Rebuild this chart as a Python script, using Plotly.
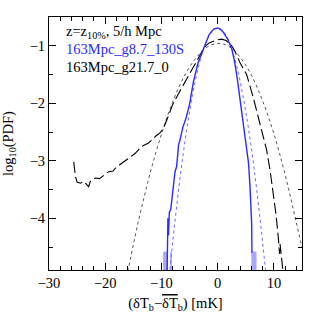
import plotly.graph_objects as go

# ---- data ----
# simulated PDF, 163Mpc_g8.7_130S (blue solid)
blue_x = [-9.0, -8.85, -8.75, -8.6, -8.35, -8.0, -7.85, -7.6, -7.3, -6.95, -6.7, -6.2, -5.6, -5.0,
          -4.3, -3.5, -2.5, -1.5, -0.7, 0.1, 0.9, 1.7, 2.5, 3.0, 3.5, 4.1, 4.8, 5.2, 5.5, 5.75,
          6.0, 6.05, 6.1]
blue_y = [-4.95, -4.0, -4.3, -3.9, -3.85, -3.45, -3.42, -3.2, -3.1, -2.72, -2.64, -2.42, -2.25, -2.02,
          -1.62, -1.3, -1.04, -0.8, -0.71, -0.69, -0.75, -0.87, -1.05, -1.27, -1.58, -2.0, -2.5, -2.75,
          -3.05, -3.45, -3.85, -4.1, -4.6]
# empty-bin spikes of the blue histogram
blue_noise_x = [-9.65, -9.55, -9.45, -9.35, -9.25, -9.15, -9.05, -8.95, -8.4, -8.3, -8.2,
                6.05, 6.15, 6.25, 6.35, 6.45, 6.55, 6.65, 6.75, 6.85]
blue_noise_y = [-4.58] * 20

# gaussian fit to blue (blue dotted)
bfit_x = [-9, -8.5, -8, -7.5, -7, -6.5, -6, -5.5, -5, -4.5, -4, -3.5, -3, -2.5, -2, -1.5, -1, -0.5, 0,
          0.5, 1, 1.5, 2, 2.5, 3, 3.5, 4, 4.5, 5, 5.5, 6, 6.5, 7, 7.5, 8, 8.5, 9]
bfit_y = [-5.41, -4.90, -4.42, -3.97, -3.55, -3.15, -2.79, -2.45, -2.15, -1.87, -1.62, -1.40, -1.21,
          -1.05, -0.92, -0.82, -0.75, -0.70, -0.69, -0.70, -0.75, -0.82, -0.92, -1.05, -1.21, -1.40,
          -1.62, -1.87, -2.15, -2.45, -2.79, -3.15, -3.55, -3.97, -4.42, -4.90, -5.41]

# simulated PDF, 163Mpc_g21.7_0 (black dashed)
dash_x = [-25.6, -25.3, -25.0, -24.4, -23.8, -23.3, -22.95, -22.65, -21.75, -21.0, -20.3, -19.4,
          -18.6, -18.2, -17.0, -15.85, -14.65, -13.5, -12.3, -11.7, -11.0, -10.3, -9.7, -8.8, -8.0,
          -7.0, -6.0, -5.0, -4.0, -3.0, -2.5, -2.0, -1.5, -1.0, 0.0, 0.7, 1.5, 2.5, 3.1, 4.0, 5.15,
          6.3, 7.2, 8.0, 8.7, 9.3, 9.9, 10.4, 10.8, 11.0, 11.1, 11.4, 11.7]
dash_y = [-3.02, -3.27, -3.37, -3.39, -3.36, -3.42, -3.45, -3.36, -3.30, -3.31, -3.26, -3.19,
          -3.18, -3.13, -3.04, -2.95, -2.87, -2.75, -2.69, -2.64, -2.57, -2.52, -2.45, -2.23, -2.02,
          -1.84, -1.66, -1.48, -1.30, -1.13, -1.05, -0.99, -0.95, -0.93, -0.895, -0.885, -0.91, -1.0,
          -1.1, -1.3, -1.5, -1.89, -2.23, -2.52, -2.81, -3.15, -3.55, -3.95, -4.35, -4.62, -4.45,
          -4.7, -5.0]

# gaussian fit to black (black dotted)
gfit_x = [-17, -16, -15, -14, -13, -12, -11, -10, -9, -8, -7, -6, -5, -4, -3, -2, -1, 0, 1, 2, 3, 4, 5,
          6, 7, 8, 9, 10, 11, 12, 13, 14, 15]
gfit_y = [-5.44, -4.94, -4.46, -4.01, -3.60, -3.21, -2.86, -2.54, -2.24, -1.98, -1.74, -1.54, -1.37,
          -1.23, -1.115, -1.03, -0.98, -0.96, -0.97, -1.01, -1.09, -1.20, -1.34, -1.51, -1.72, -1.96,
          -2.23, -2.53, -2.87, -3.24, -3.65, -4.08, -4.51]

x_ticks = [-30, -20, -10, 0, 10]
y_ticks = [-1, -2, -3, -4]

labels = ["z=z<sub>10%</sub>, 5/h Mpc", "163Mpc_g8.7_130S", "163Mpc_g21.7_0"]
label_colors = ["black", "#2b2bff", "black"]

BLUE = "#2b2bff"
FONT = "Liberation Serif"
FS = 14.5

fig = go.Figure()

# blue noise spikes as vertical segments
nx, ny = [], []
for xv, yv in zip(blue_noise_x, blue_noise_y):
    nx += [xv, xv, None]
    ny += [-6, yv, None]
fig.add_trace(go.Scatter(x=nx, y=ny, mode="lines",
                         line=dict(color="rgba(90,90,255,0.45)", width=0.8),
                         hoverinfo="skip", showlegend=False))

fig.add_trace(go.Scatter(x=gfit_x, y=gfit_y, mode="lines", line_shape="spline",
                         line=dict(color="#555555", width=1, dash="dot"), showlegend=False))
fig.add_trace(go.Scatter(x=bfit_x, y=bfit_y, mode="lines", line_shape="spline",
                         line=dict(color="#6a6aff", width=1, dash="dot"), showlegend=False))
fig.add_trace(go.Scatter(x=dash_x, y=dash_y, mode="lines",
                         line=dict(color="black", width=1.1, dash="11px,4px"), showlegend=False))
fig.add_trace(go.Scatter(x=blue_x, y=blue_y, mode="lines",
                         line=dict(color=BLUE, width=1.4), showlegend=False))

for i, (t, c) in enumerate(zip(labels, label_colors)):
    fig.add_annotation(x=0.06, y=0.94 - i * 0.068, xref="paper", yref="paper",
                       text=t, showarrow=False, xanchor="left", yanchor="middle",
                       font=dict(family=FONT, size=FS, color=c))

axis_common = dict(showline=True, linecolor="black", linewidth=1, mirror="allticks",
                   ticks="inside", ticklen=7, tickcolor="black", tickwidth=1,
                   showgrid=False, zeroline=False, automargin=False,
                   tickfont=dict(family=FONT, size=FS, color="black"))

fig.update_xaxes(range=[-30, 15], tickvals=x_ticks,
                 minor=dict(dtick=2, ticks="inside", ticklen=4, tickcolor="black", showgrid=False),
                 title=dict(text="(δT<sub>b</sub>−<span style='text-decoration:overline'>δT</span><sub>b</sub>) [mK]",
                            font=dict(family=FONT, size=FS, color="black"), standoff=7),
                 **axis_common)
fig.update_yaxes(range=[-4.9, -0.5], tickvals=y_ticks,
                 minor=dict(dtick=0.5, ticks="inside", ticklen=4, tickcolor="black", showgrid=False),
                 title=dict(text="log<sub>10</sub>(PDF)",
                            font=dict(family=FONT, size=FS, color="black"), standoff=14),
                 **axis_common)

fig.update_layout(width=319, height=319, margin=dict(l=49, r=17, t=17, b=49),
                  plot_bgcolor="white", paper_bgcolor="white", showlegend=False)

fig.write_html("out.html", config={"displayModeBar": False},
               post_script="document.body.style.margin='0';")
